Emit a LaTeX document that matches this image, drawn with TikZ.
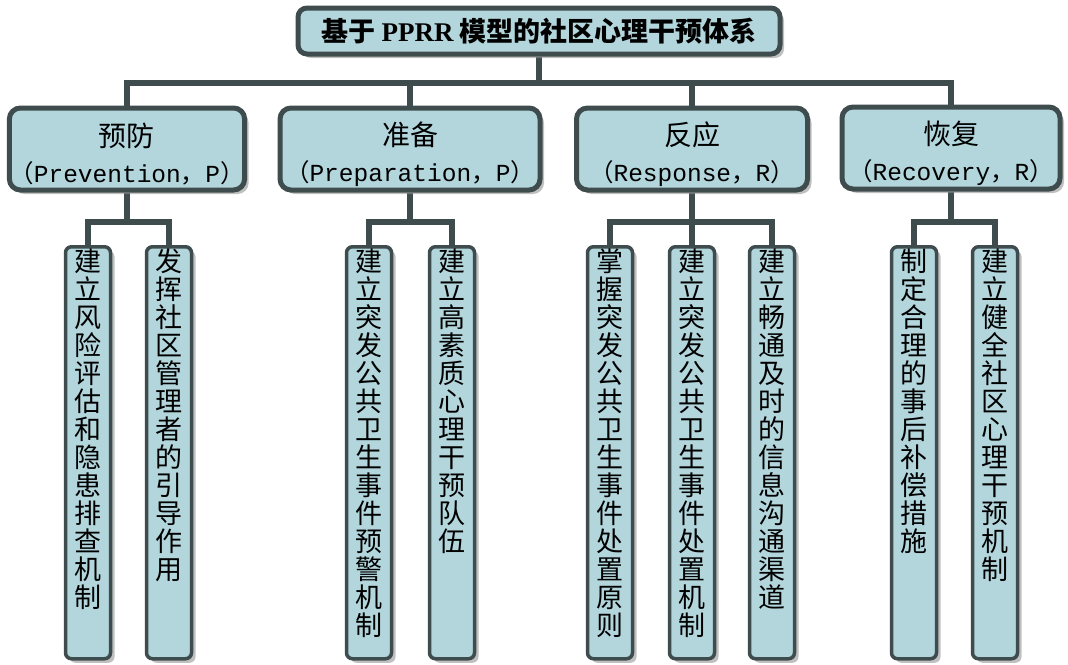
\documentclass[tikz,border=0pt]{standalone}
\usepackage{fontspec}
\setmainfont{Noto Sans CJK SC}
\newfontfamily\lmono{Liberation Mono}
\newfontfamily\lserif{Liberation Serif}
\usetikzlibrary{shadows,backgrounds}
\definecolor{boxfill}{HTML}{B2D6DC}
\definecolor{edgec}{HTML}{3F4C4E}
\definecolor{shadowc}{HTML}{8E8E8E}
\newcommand{\vtxt}[1]{\parbox[c][412pt][t]{45pt}{\centering\fontsize{27}{28}\selectfont\vspace*{2pt}#1}}
\newcommand{\hd}[3]{\rule{0pt}{34pt}{\fontsize{28}{36}\selectfont #1}\\{\fontsize{24.5}{36}\selectfont （{\lmono #2}，{\lmono #3}）}}
\begin{document}
\begin{tikzpicture}[x=1pt,y=-1pt,
  shad/.style={drop shadow={shadow xshift=4pt,shadow yshift=-4pt,fill=shadowc,opacity=0.55}},
  titlebox/.style={draw=edgec,line width=5pt,fill=boxfill,rounded corners=9pt,shad,
    minimum width=482pt,minimum height=46pt,inner sep=0pt,font=\fontsize{27}{30}\selectfont\bfseries},
  headbox/.style={draw=edgec,line width=5pt,fill=boxfill,rounded corners=11pt,shad,
    minimum height=82pt,inner sep=0pt,align=center,font=\fontsize{24.5}{36}\selectfont},
  leaf/.style={draw=edgec,line width=3.5pt,fill=boxfill,rounded corners=6pt,shad,
    inner sep=0pt,anchor=north},
  conn/.style={draw=edgec,line width=5.5pt}]
\useasboundingbox (0,0) rectangle (1068,664);

\node[titlebox] (title) at (539,31) {基于 {\lserif PPRR} 模型的社区心理干预体系};

\node[headbox,minimum width=235pt] (b1) at (127,149) {\hd{预防}{Prevention}{P}};
\node[headbox,minimum width=260pt] (b2) at (410,149) {\hd{准备}{Preparation}{P}};
\node[headbox,minimum width=231pt] (b3) at (692,149) {\hd{反应}{Response}{R}};
\node[headbox,minimum width=218pt] (b4) at (951,148) {\hd{恢复}{Recovery}{R}};

\node[leaf] (l1) at (88,245)  {\vtxt{建\\立\\风\\险\\评\\估\\和\\隐\\患\\排\\查\\机\\制}};
\node[leaf] (l2) at (169,245) {\vtxt{发\\挥\\社\\区\\管\\理\\者\\的\\引\\导\\作\\用}};
\node[leaf] (l3) at (369,245) {\vtxt{建\\立\\突\\发\\公\\共\\卫\\生\\事\\件\\预\\警\\机\\制}};
\node[leaf] (l4) at (452,245) {\vtxt{建\\立\\高\\素\\质\\心\\理\\干\\预\\队\\伍}};
\node[leaf] (l5) at (610,245) {\vtxt{掌\\握\\突\\发\\公\\共\\卫\\生\\事\\件\\处\\置\\原\\则}};
\node[leaf] (l6) at (692,245) {\vtxt{建\\立\\突\\发\\公\\共\\卫\\生\\事\\件\\处\\置\\机\\制}};
\node[leaf] (l7) at (772,245) {\vtxt{建\\立\\畅\\通\\及\\时\\的\\信\\息\\沟\\通\\渠\\道}};
\node[leaf] (l8) at (914,245) {\vtxt{制\\定\\合\\理\\的\\事\\后\\补\\偿\\措\\施}};
\node[leaf] (l9) at (995,245) {\vtxt{建\\立\\健\\全\\社\\区\\心\\理\\干\\预\\机\\制}};

\begin{pgfonlayer}{background}
\fill[white] (0,0) rectangle (1068,664);
\coordinate (hub) at (539,83);
\draw[conn] (title) -- (hub);
\draw[conn] (hub) -| (b1);
\draw[conn] (hub) -| (b2);
\draw[conn] (hub) -| (b3);
\draw[conn] (hub) -| (b4);
\coordinate (g1) at (127,222);
\coordinate (g2) at (410,222);
\coordinate (g3) at (692,222);
\coordinate (g4) at (951,222);
\draw[conn] (b1) -- (g1);
\draw[conn] (g1) -| (l1);
\draw[conn] (g1) -| (l2);
\draw[conn] (b2) -- (g2);
\draw[conn] (g2) -| (l3);
\draw[conn] (g2) -| (l4);
\draw[conn] (b3) -- (l6);
\draw[conn] (g3) -| (l5);
\draw[conn] (g3) -| (l7);
\draw[conn] (b4) -- (g4);
\draw[conn] (g4) -| (l8);
\draw[conn] (g4) -| (l9);
\end{pgfonlayer}
\end{tikzpicture}
\end{document}
